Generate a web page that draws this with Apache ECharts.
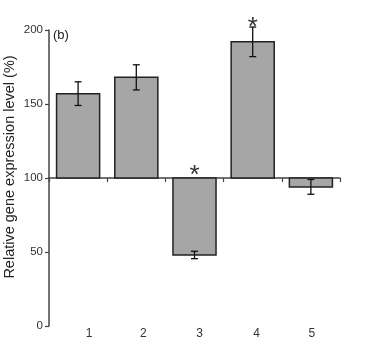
<!DOCTYPE html>
<html>
<head>
<meta charset="utf-8">
<script src="https://cdn.jsdelivr.net/npm/echarts@6/dist/echarts.min.js"></script>
<style>
html,body{margin:0;padding:0;background:#fff;}
#chart{width:373px;height:356px;}
</style>
</head>
<body>
<div id="chart"></div>
<script>
// ---- data ----
const categories = ['1', '2', '3', '4', '5'];
const means = [157, 168, 48, 192, 94];
const errors = [8, 8.5, 2.5, 10, 5];
const significant = [false, false, true, true, false];
const baseline = 100;
const yMin = 0, yMax = 200, yStep = 50;
const yTitle = 'Relative gene expression level (%)';
const panelLabel = '(b)';

// ---- styles ----
const labelShift = [11, 7, 5, 4, 1];
const FONT = 'Liberation Sans, Arial, sans-serif';
const barFill = '#a6a6a6';
const ink = '#222';

const chart = echarts.init(document.getElementById('chart'), null, {renderer: 'canvas'});

const rich = {};
labelShift.forEach((s, i) => {
  rich['l' + i] = {padding: [0, 0, 0, 2 * s], fontSize: 12, color: '#333', fontFamily: FONT};
});

const option = {
  animation: false,
  backgroundColor: '#fff',
  grid: {left: 49, right: 33, top: 30, bottom: 30, containLabel: false, outerBoundsMode: 'none'},
  xAxis: [
    {
      type: 'category',
      data: categories,
      position: 'bottom',
      axisLine: {show: false},
      axisTick: {show: false},
      axisLabel: {
        margin: 2,
        formatter: (v, i) => '{l' + i + '|' + v + '}',
        rich: rich
      },
      splitLine: {show: false}
    },
    {
      type: 'category',
      data: categories,
      position: 'top',
      offset: -148,
      axisLine: {show: true, lineStyle: {color: '#444', width: 1.5}},
      axisTick: {show: true, inside: true, length: 4, lineStyle: {color: '#444', width: 1.2}},
      axisLabel: {show: false},
      splitLine: {show: false}
    }
  ],
  yAxis: {
    type: 'value',
    min: yMin,
    max: yMax,
    interval: yStep,
    axisLine: {show: true, lineStyle: {color: '#444', width: 1.5}},
    axisTick: {show: true, length: 4, lineStyle: {color: '#444', width: 1.2}},
    axisLabel: {fontSize: 11.5, color: '#333', margin: 6, fontFamily: FONT},
    splitLine: {show: false}
  },
  graphic: [
    {type: 'text', left: 53, top: 29, style: {text: panelLabel, fontSize: 13, fill: ink, fontFamily: FONT}},
    {type: 'text', x: 10, y: 167, rotation: Math.PI / 2,
     style: {text: yTitle, fontSize: 14.5, fill: ink, fontFamily: FONT, align: 'center', verticalAlign: 'middle'}}
  ],
  series: [
    {
      type: 'custom',
      xAxisIndex: 0,
      data: means.map((v, i) => [i, v, errors[i], significant[i] ? 1 : 0]),
      renderItem: function (params, api) {
        const x = api.value(0), v = api.value(1), e = api.value(2), sig = api.value(3);
        const pBase = api.coord([x, baseline]);
        const pVal = api.coord([x, v]);
        const w = api.size([1, 0])[0] * 0.74;
        const top = Math.min(pBase[1], pVal[1]);
        const h = Math.abs(pBase[1] - pVal[1]);
        const pHi = api.coord([x, v + e]);
        const pLo = api.coord([x, v - e]);
        const cap = 3.5;
        const children = [
          {type: 'rect', shape: {x: pBase[0] - w / 2, y: top, width: w, height: h},
           style: {fill: barFill, stroke: ink, lineWidth: 1.5}},
          {type: 'line', shape: {x1: pHi[0], y1: pHi[1], x2: pLo[0], y2: pLo[1]}, style: {stroke: '#111', lineWidth: 1.3}},
          {type: 'line', shape: {x1: pHi[0] - cap, y1: pHi[1], x2: pHi[0] + cap, y2: pHi[1]}, style: {stroke: '#111', lineWidth: 1.3}},
          {type: 'line', shape: {x1: pLo[0] - cap, y1: pLo[1], x2: pLo[0] + cap, y2: pLo[1]}, style: {stroke: '#111', lineWidth: 1.3}}
        ];
        if (sig) {
          const above = v + e > baseline;
          const pStar = api.coord([x, Math.max(v + e, baseline)]);
          children.push({type: 'text', x: pStar[0], y: pStar[1] - (above ? 12 : 15),
            style: {text: '*', fontSize: 26, fill: '#333', fontFamily: FONT, align: 'center', verticalAlign: 'top'}});
        }
        return {type: 'group', children: children};
      },
      z: 3
    }
  ]
};
chart.setOption(option);
</script>
</body>
</html>
